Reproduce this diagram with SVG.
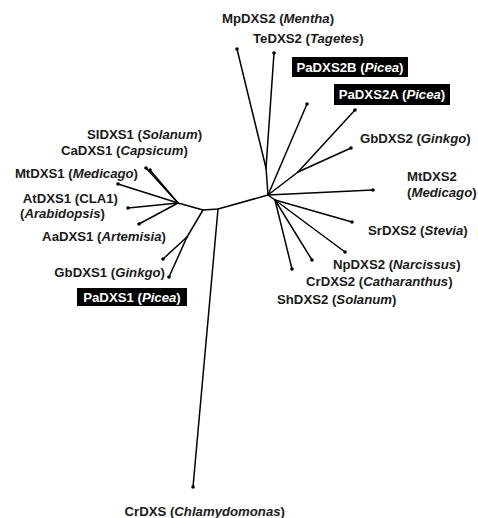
<svg xmlns="http://www.w3.org/2000/svg" width="478" height="518" viewBox="0 0 478 518">
<style>
.lbl{font-family:"Liberation Sans",Arial,sans-serif;font-weight:bold;font-size:13.2px;fill:#1a1a1a}
.inv{fill:#fff}
.it{font-style:italic}
.box{fill:#000}
.tip{fill:#000}
#connectors line,#connectors polyline{stroke:#000;stroke-width:1.5;fill:none;stroke-linecap:round;stroke-linejoin:round}
</style>
<rect width="478" height="518" fill="#fff"/>
<g id="connectors">
  <polyline points="178,203 203,210 218,209 268,195 275,200"/>
  <line x1="178" y1="203" x2="146" y2="168"/>
  <line x1="178" y1="203" x2="150" y2="170"/>
  <line x1="178" y1="203" x2="118" y2="184"/>
  <line x1="178" y1="203" x2="128" y2="208"/>
  <line x1="178" y1="203" x2="139" y2="224"/>
  <line x1="203" y1="210" x2="187" y2="237"/>
  <line x1="187" y1="237" x2="163" y2="259"/>
  <line x1="187" y1="237" x2="169" y2="277"/>
  <line x1="218" y1="209" x2="193" y2="487"/>
  <line x1="268" y1="195" x2="266" y2="168"/>
  <line x1="266" y1="168" x2="237" y2="49"/>
  <line x1="266" y1="168" x2="274" y2="53"/>
  <line x1="268" y1="195" x2="307" y2="104"/>
  <line x1="268" y1="195" x2="298" y2="172"/>
  <line x1="298" y1="172" x2="355" y2="110"/>
  <line x1="298" y1="172" x2="351" y2="148"/>
  <line x1="268" y1="195" x2="373" y2="190"/>
  <line x1="275" y1="200" x2="352" y2="222"/>
  <line x1="275" y1="200" x2="345" y2="252"/>
  <line x1="275" y1="200" x2="312" y2="260"/>
  <line x1="275" y1="200" x2="292" y2="269"/>
</g>
<g id="SlDXS1"><circle class="tip" cx="146" cy="168" r="1.8"/><text class="lbl" x="87" y="138.5">SlDXS1 (<tspan class="it">Solanum</tspan>)</text></g>
<g id="CaDXS1"><circle class="tip" cx="150" cy="170" r="1.8"/><text class="lbl" x="61" y="155">CaDXS1 (<tspan class="it">Capsicum</tspan>)</text></g>
<g id="MtDXS1"><circle class="tip" cx="118" cy="184" r="1.8"/><text class="lbl" x="138" y="177.5" text-anchor="end">MtDXS1 (<tspan class="it">Medicago</tspan>)</text></g>
<g id="AtDXS1"><circle class="tip" cx="128" cy="208" r="1.8"/><text class="lbl" x="118" y="203" text-anchor="end">AtDXS1 (CLA1)</text><text class="lbl" x="105" y="218" text-anchor="end">(<tspan class="it">Arabidopsis</tspan>)</text></g>
<g id="AaDXS1"><circle class="tip" cx="139" cy="224" r="1.8"/><text class="lbl" x="166" y="240.5" text-anchor="end">AaDXS1 (<tspan class="it">Artemisia</tspan>)</text></g>
<g id="GbDXS1"><circle class="tip" cx="163" cy="259" r="1.8"/><text class="lbl" x="165" y="276.5" text-anchor="end">GbDXS1 (<tspan class="it">Ginkgo</tspan>)</text></g>
<g id="PaDXS1"><circle class="tip" cx="169" cy="277" r="1.8"/><rect class="box" x="77" y="288" width="110" height="18"/><text class="lbl inv" x="132" y="301.5" text-anchor="middle">PaDXS1 (<tspan class="it">Picea</tspan>)</text></g>
<g id="CrDXS"><circle class="tip" cx="193" cy="487" r="1.8"/><text class="lbl" x="285" y="515.5" text-anchor="end">CrDXS (<tspan class="it">Chlamydomonas</tspan>)</text></g>
<g id="MpDXS2"><circle class="tip" cx="237" cy="49" r="1.8"/><text class="lbl" x="222" y="22.5">MpDXS2 (<tspan class="it">Mentha</tspan>)</text></g>
<g id="TeDXS2"><circle class="tip" cx="274" cy="53" r="1.8"/><text class="lbl" x="253" y="43">TeDXS2 (<tspan class="it">Tagetes</tspan>)</text></g>
<g id="PaDXS2B"><circle class="tip" cx="307" cy="104" r="1.8"/><rect class="box" x="292" y="57" width="116" height="20"/><text class="lbl inv" x="350" y="71.5" text-anchor="middle">PaDXS2B (<tspan class="it">Picea</tspan>)</text></g>
<g id="PaDXS2A"><circle class="tip" cx="355" cy="110" r="1.8"/><rect class="box" x="334" y="84" width="116" height="21"/><text class="lbl inv" x="392" y="99" text-anchor="middle">PaDXS2A (<tspan class="it">Picea</tspan>)</text></g>
<g id="GbDXS2"><circle class="tip" cx="351" cy="148" r="1.8"/><text class="lbl" x="360" y="142.5">GbDXS2 (<tspan class="it">Ginkgo</tspan>)</text></g>
<g id="MtDXS2"><circle class="tip" cx="373" cy="190" r="1.8"/><text class="lbl" x="407" y="181">MtDXS2</text><text class="lbl" x="407" y="196.5">(<tspan class="it">Medicago</tspan>)</text></g>
<g id="SrDXS2"><circle class="tip" cx="352" cy="222" r="1.8"/><text class="lbl" x="368" y="234.5">SrDXS2 (<tspan class="it">Stevia</tspan>)</text></g>
<g id="NpDXS2"><circle class="tip" cx="345" cy="252" r="1.8"/><text class="lbl" x="333" y="268.5">NpDXS2 (<tspan class="it">Narcissus</tspan>)</text></g>
<g id="CrDXS2"><circle class="tip" cx="312" cy="260" r="1.8"/><text class="lbl" x="306" y="285.5">CrDXS2 (<tspan class="it">Catharanthus</tspan>)</text></g>
<g id="ShDXS2"><circle class="tip" cx="292" cy="269" r="1.8"/><text class="lbl" x="277" y="303.5">ShDXS2 (<tspan class="it">Solanum</tspan>)</text></g>
</svg>
